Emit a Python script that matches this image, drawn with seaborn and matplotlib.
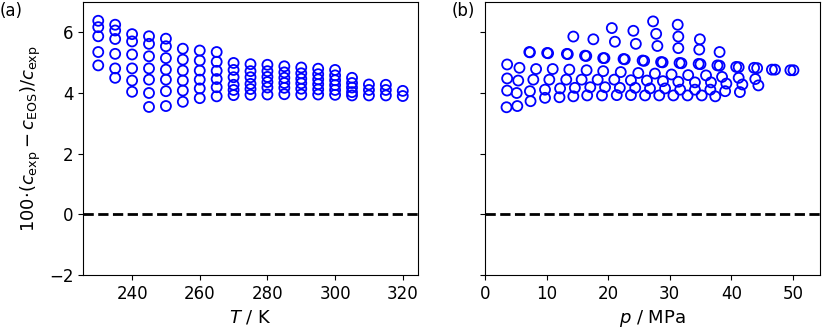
import numpy as np
import pandas as pd
import matplotlib
matplotlib.use('Agg')
import matplotlib.pyplot as plt
import seaborn as sns

# (a) deviations along each isotherm
temperatures = [230, 235, 240, 245, 250, 255, 260, 265, 270, 275,
                280, 285, 290, 295, 300, 305, 310, 315, 320]
dev_by_T = [
    [6.38, 6.17, 5.87, 5.35, 4.91],
    [6.25, 6.06, 5.78, 5.29, 4.81, 4.50],
    [5.94, 5.70, 5.27, 4.81, 4.41, 4.04],
    [5.87, 5.62, 5.21, 4.81, 4.44, 4.00, 3.54],
    [5.79, 5.54, 5.15, 4.77, 4.44, 4.06, 3.57],
    [5.46, 5.10, 4.74, 4.41, 4.08, 3.71],
    [5.40, 5.07, 4.74, 4.44, 4.15, 3.83],
    [5.35, 5.03, 4.73, 4.46, 4.19, 3.89],
    [4.99, 4.76, 4.52, 4.27, 4.10, 3.93],
    [4.95, 4.72, 4.52, 4.30, 4.13, 3.94],
    [4.93, 4.72, 4.53, 4.36, 4.18, 3.95],
    [4.88, 4.68, 4.50, 4.33, 4.17, 3.96],
    [4.84, 4.65, 4.47, 4.32, 4.14, 3.95],
    [4.80, 4.62, 4.45, 4.29, 4.12, 3.95],
    [4.76, 4.58, 4.42, 4.26, 4.10, 3.94],
    [4.50, 4.33, 4.18, 4.03, 3.92],
    [4.28, 4.10, 3.92],
    [4.27, 4.10, 3.92],
    [4.07, 3.90],
]

# (b) deviations vs pressure
p_pts = [
    27.3, 31.3, 20.6, 24.1, 27.8, 14.35, 31.4, 17.6, 21.1, 34.9, 24.5, 28.0, 31.4, 34.8, 38.1,
    7.2, 7.3, 10.1, 10.25, 13.3, 13.45, 16.25, 16.45, 19.2, 19.4, 22.5, 22.7, 25.6, 25.85,
    28.6, 28.85, 31.6, 31.9, 34.7, 35.0, 37.75, 38.1, 40.8, 41.2, 43.7, 44.2, 46.6, 47.1, 49.6, 50.1,
    3.6, 5.6, 8.3, 11.0, 13.7, 16.5, 19.2, 22.05, 24.9, 27.6, 30.3, 33.0, 35.9, 38.5, 41.2, 43.9,
    3.6, 5.4, 7.85, 10.45, 13.2, 15.7, 18.3, 21.0, 23.7, 26.3, 28.9, 31.4, 34.1, 36.7, 39.2, 41.8, 44.4,
    3.6, 5.15, 7.3, 9.75, 12.2, 14.6, 17.1, 19.5, 21.9, 24.4, 26.8, 29.25, 31.7, 34.1, 36.6, 39.0, 41.4,
    3.5, 5.25, 7.4, 9.75, 12.1, 14.35, 16.6, 19.0, 21.4, 23.7, 26.0, 28.3, 30.6, 32.9, 35.2, 37.4,
]
dev_p_pts = [
    6.36, 6.25, 6.14, 6.05, 5.95, 5.86, 5.86, 5.77, 5.69, 5.77, 5.62, 5.55, 5.48, 5.43, 5.35,
    5.35, 5.34, 5.32, 5.31, 5.29, 5.28, 5.23, 5.22, 5.15, 5.15, 5.12, 5.11, 5.07, 5.06,
    5.02, 5.01, 4.99, 4.98, 4.96, 4.95, 4.91, 4.90, 4.86, 4.85, 4.83, 4.82, 4.77, 4.77, 4.75, 4.75,
    4.94, 4.83, 4.79, 4.79, 4.77, 4.75, 4.72, 4.69, 4.66, 4.64, 4.61, 4.59, 4.58, 4.53, 4.50, 4.46,
    4.48, 4.41, 4.44, 4.44, 4.44, 4.44, 4.44, 4.44, 4.42, 4.41, 4.39, 4.37, 4.35, 4.35, 4.31, 4.28, 4.25,
    4.08, 4.00, 4.06, 4.11, 4.15, 4.17, 4.19, 4.19, 4.17, 4.17, 4.15, 4.15, 4.11, 4.11, 4.11, 4.06, 4.03,
    3.53, 3.57, 3.73, 3.84, 3.86, 3.89, 3.92, 3.92, 3.93, 3.93, 3.92, 3.92, 3.92, 3.92, 3.92, 3.89,
]

df_T = pd.DataFrame({
    'T': [t for t, devs in zip(temperatures, dev_by_T) for _ in devs],
    'dev': [d for devs in dev_by_T for d in devs],
})
df_p = pd.DataFrame({'p': p_pts, 'dev': dev_p_pts})

fig = plt.figure(figsize=(8.22, 3.29), dpi=100)
ax1 = fig.add_axes([0.101, 0.164, 0.4075, 0.83])
ax2 = fig.add_axes([0.590, 0.164, 0.4075, 0.83], sharey=ax1)

marker_kw = dict(marker='o', s=52, facecolor='none', edgecolor='b', linewidth=1.3)
sns.scatterplot(data=df_T, x='T', y='dev', ax=ax1, **marker_kw)
sns.scatterplot(data=df_p, x='p', y='dev', ax=ax2, **marker_kw)

for ax in (ax1, ax2):
    ax.axhline(0, color='k', ls='--', lw=2)
    ax.tick_params(labelsize=12)

ax1.set_ylim(-2, 7)
ax1.set_yticks([-2, 0, 2, 4, 6])
ax1.set_xticks([240, 260, 280, 300, 320])
ax2.set_xlim(0, 54.4)
ax2.set_xticks([0, 10, 20, 30, 40, 50])
ax2.tick_params(labelleft=False)

ax1.set_xlabel(r'$T$ / K', fontsize=13)
ax1.set_ylabel(r'$100{\cdot}(c_\mathrm{exp}-c_\mathrm{EOS})/c_\mathrm{exp}$', fontsize=13)
ax2.set_xlabel(r'$p$ / MPa', fontsize=13)
ax2.set_ylabel('')

fig.text(0.0, 0.995, '(a)', fontsize=12, va='top', ha='left')
fig.text(0.549, 0.995, '(b)', fontsize=12, va='top', ha='left')

fig.savefig('out.png', dpi=100)
